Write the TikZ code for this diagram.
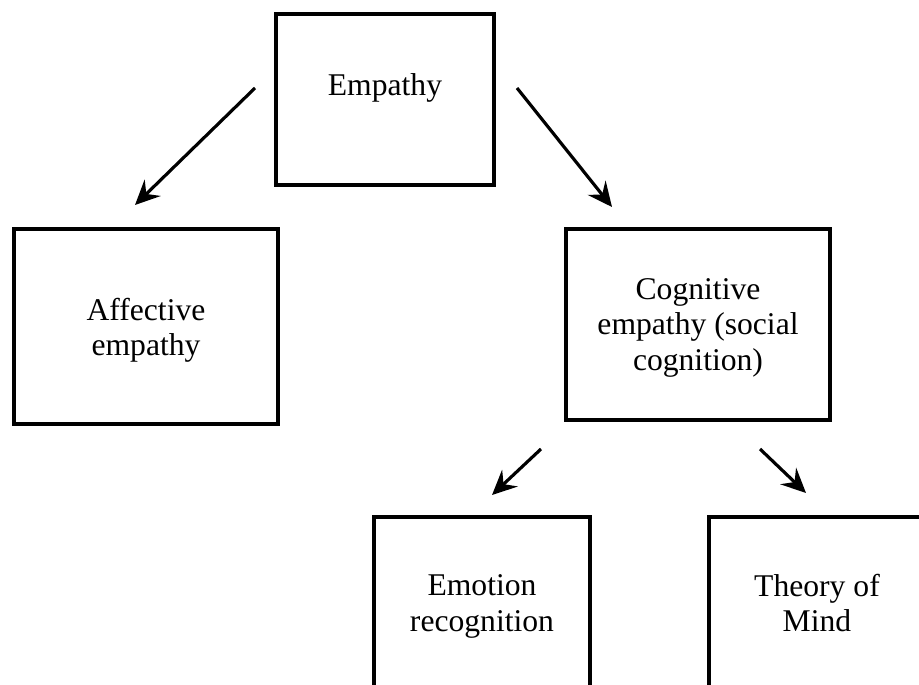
\documentclass[tikz,border=0pt]{standalone}
\usepackage{fontspec}
\setmainfont{Liberation Serif}
\usetikzlibrary{arrows.meta}

\begin{document}
\begin{tikzpicture}[x=0.02cm,y=-0.02cm,
  box/.style={draw,line width=2.3pt,align=center,text depth=0pt,font=\fontsize{18}{20}\selectfont},
  link/.style={line width=1.8pt,-{Stealth[length=14pt,width=13pt,inset=5pt]}}]
\useasboundingbox(0,0)rectangle(919,685);
\node[box,minimum width=4.36cm,minimum height=3.42cm,text depth=17.4pt](emp) at(385,99.5){Empathy};
\node[box,minimum width=5.28cm,minimum height=3.9cm](aff) at(146,326.5){Affective\\empathy};
\node[box,minimum width=5.28cm,minimum height=3.82cm](cog) at(698,324.5){Cognitive\\empathy (social\\cognition)};
\node[box,minimum width=4.32cm,minimum height=3.44cm](emo) at(482,603){Emotion\\recognition};
\node[box,minimum width=4.32cm,minimum height=3.44cm](tom) at(817,603){Theory of\\Mind};
\coordinate(empL) at(255,88);\coordinate(affT) at(135,205);
\coordinate(empR) at(517,88);\coordinate(cogT) at(612,207);
\coordinate(cogL) at(541,449);\coordinate(emoT) at(492,495);
\coordinate(cogR) at(760,449);\coordinate(tomT) at(806,493);
\draw[link](empL)--(affT);
\draw[link](empR)--(cogT);
\draw[link](cogL)--(emoT);
\draw[link](cogR)--(tomT);
\end{tikzpicture}
\end{document}
